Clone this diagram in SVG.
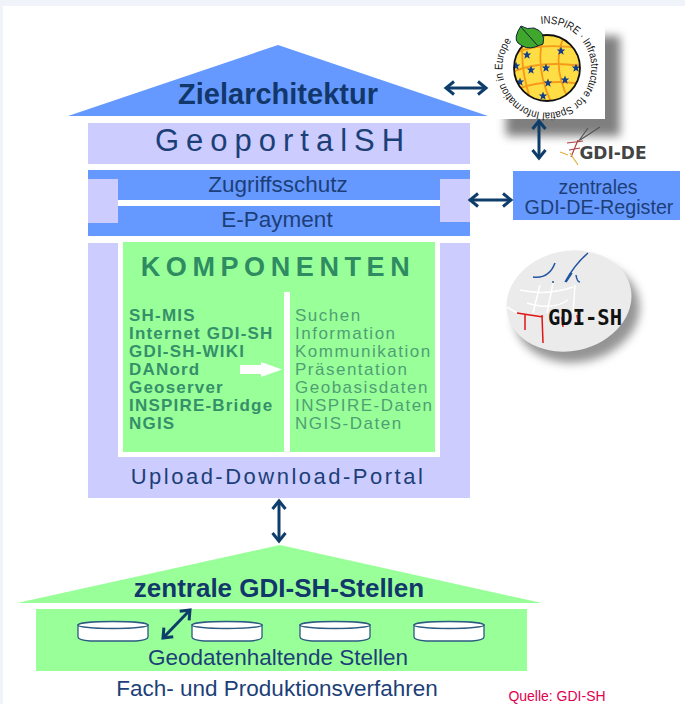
<svg xmlns="http://www.w3.org/2000/svg" xmlns:xlink="http://www.w3.org/1999/xlink" width="685" height="704" viewBox="0 0 685 704">
<style>
text{font-family:"Liberation Sans",Arial,sans-serif;text-anchor:middle}
.b{fill:#6699ff}.l{fill:#ccccff}.g{fill:#99ff99}
.t{fill:#1d3f78}.tb{fill:#12376a;font-weight:bold}
.lst{font-size:17px;letter-spacing:1.200px;text-anchor:start;fill:#35906a;font-weight:bold}
.lst2{font-size:17px;letter-spacing:1.500px;text-anchor:start;fill:#4f9f74}
.ar{fill:none;stroke:#0f3d6b;stroke-width:3;marker-start:url(#hs);marker-end:url(#he)}
.cyl{fill:#fff;stroke:#2c5a80;stroke-width:1.300}
</style>
<defs>
<marker id="he" markerUnits="userSpaceOnUse" markerWidth="16" markerHeight="16" refX="12" refY="8" orient="auto"><path d="M4 1.500L12 8L4 14.500" fill="none" stroke="#0f3d6b" stroke-width="3"/></marker>
<marker id="hs" markerUnits="userSpaceOnUse" markerWidth="16" markerHeight="16" refX="4" refY="8" orient="auto"><path d="M12 1.500L4 8L12 14.500" fill="none" stroke="#0f3d6b" stroke-width="3"/></marker>
<filter id="sh" x="-30%" y="-30%" width="160%" height="160%"><feGaussianBlur stdDeviation="5"/></filter>
<path id="ring" d="M541 24A44.500 44.500 0 1 1 534 25.500A44.500 44.500 0 0 1 541 24"/>
<path id="st" d="M0-4.500L1.200-1.400L4.300-1.400L1.800 0.600L2.700 3.700L0 1.900L-2.700 3.700L-1.800 0.600L-4.300-1.400L-1.200-1.400Z" fill="#123f8c"/>
<clipPath id="globe"><circle cx="547" cy="68" r="33"/></clipPath>
</defs>

<rect width="685" height="704" fill="#fff"/>
<rect width="685" height="6" fill="#f1f3fa"/>
<rect width="3" height="704" fill="#f1f3fa"/>

<g id="dach-ziel"><path class="b" d="M278 45L488 116H68Z"/><text x="278" y="104" class="tb" font-size="29">Zielarchitektur</text></g>
<g id="geoportal"><rect class="l" x="88" y="123" width="382" height="41"/><text x="283" y="151" class="t" font-size="31" letter-spacing="7">GeoportalSH</text></g>
<g id="zugriff">
<rect class="b" x="88" y="170" width="382" height="30"/>
<text x="278" y="192" class="t" font-size="22.500">Zugriffsschutz</text></g>
<g id="epayment">
<rect class="b" x="88" y="206" width="382" height="30"/>
<text x="277" y="227" class="t" font-size="22.500">E-Payment</text></g>
<g id="saeulen"><rect class="l" x="88" y="179" width="30" height="44"/><rect class="l" x="440" y="179" width="30" height="43"/></g>

<g id="portal">
<rect class="l" x="88" y="243" width="382" height="255"/>
<rect x="118" y="243" width="322" height="214" fill="#fff"/>
<text x="278" y="484" class="t" font-size="22" letter-spacing="2.500">Upload-Download-Portal</text>
</g>
<g id="komponenten">
<rect class="g" x="123" y="242" width="312" height="210"/>
<rect x="284" y="292" width="6" height="160" fill="#fff"/>
<text x="278" y="276" font-size="27" font-weight="bold" letter-spacing="5.600" fill="#2e8b62">KOMPONENTEN</text>
<text class="lst" x="129" y="321">SH-MIS</text>
<text class="lst" x="129" y="339">Internet GDI-SH</text>
<text class="lst" x="129" y="357">GDI-SH-WIKI</text>
<text class="lst" x="129" y="375">DANord</text>
<text class="lst" x="129" y="393">Geoserver</text>
<text class="lst" x="129" y="411">INSPIRE-Bridge</text>
<text class="lst" x="129" y="429">NGIS</text>
<path fill="#fff" d="M240 365H261V362L282 369.500L261 377V374H240Z"/>
<text class="lst2" x="295" y="321">Suchen</text>
<text class="lst2" x="295" y="339">Information</text>
<text class="lst2" x="295" y="357">Kommunikation</text>
<text class="lst2" x="295" y="375">Präsentation</text>
<text class="lst2" x="295" y="393">Geobasisdaten</text>
<text class="lst2" x="295" y="411">INSPIRE-Daten</text>
<text class="lst2" x="295" y="429">NGIS-Daten</text>
</g>

<g id="register"><rect class="b" x="513" y="171" width="167" height="49"/>
<text x="598" y="194" class="t" font-size="19.500">zentrales</text>
<text x="599" y="214" class="t" font-size="19.700">GDI-DE-Register</text></g>

<g id="inspire">
<rect x="506" y="36" width="114" height="100" fill="#555" opacity=".75" filter="url(#sh)"/>
<rect x="488" y="18" width="117" height="101" fill="#fff"/>
<circle cx="547" cy="68" r="33" fill="#ffdd44"/>
<g clip-path="url(#globe)">
<g fill="none" stroke="#f59a1a" stroke-width="1.800">
<path d="M512 56Q530 42 580 48M512 72Q540 60 582 66M514 90Q545 78 582 84M524 34Q518 65 532 104M545 32Q533 65 552 104M565 34Q550 65 570 102"/>
</g>
<use href="#st" transform="translate(527 55)"/>
<use href="#st" transform="translate(561 51)"/>
<use href="#st" transform="translate(531 70)"/>
<use href="#st" transform="translate(546 68)"/>
<use href="#st" transform="translate(565 80)"/>
<use href="#st" transform="translate(548 83)"/>
<use href="#st" transform="translate(576 68)"/>
<use href="#st" transform="translate(520 82)"/>
<use href="#st" transform="translate(516 66)"/>
<use href="#st" transform="translate(543 96)"/>
</g>
<circle cx="547" cy="68" r="33" fill="none" stroke="#111" stroke-width="1.800"/>
<path d="M521 26Q513 38 518 43Q526 50 535 47L543 44Q546 32 534 28Q527 30 521 26Z" fill="#3fa82c" stroke="#123" stroke-width="1"/>
<path d="M521 27L538 46" stroke="#123" stroke-width="1" fill="none"/>
<text font-size="11" fill="#111" style="text-anchor:start"><textPath href="#ring" xlink:href="#ring" textLength="244" lengthAdjust="spacingAndGlyphs">INSPIRE · Infrastructure for Spatial Information in Europe</textPath></text>
</g>

<g id="gdi-de-logo">
<g fill="none" stroke-width="1.200">
<path d="M600 127L580 140M588 128L578 142" stroke="#555"/>
<path d="M567 143L583 141M569 150L580 148M578 140L571 157" stroke="#b04040"/>
<path d="M560 152L568 155M570 153L578 165" stroke="#e0b040"/>
</g>
<text x="613" y="158.500" font-size="17" font-weight="bold" fill="#444" style="font-family:'DejaVu Sans',sans-serif">GDI-DE</text>
</g>

<g id="gdi-sh">
<ellipse cx="577" cy="312" rx="63" ry="50" transform="rotate(-12 577 312)" fill="#666" opacity=".7" filter="url(#sh)"/>
<ellipse cx="569" cy="301" rx="63" ry="50" transform="rotate(-12 569 301)" fill="#ebebeb"/>
<g fill="none" stroke="#fff" stroke-width="1.500">
<path d="M520 290Q547 296 573 287M527 303Q553 311 568 300M507 307L517 313M540 285L533 313M553 283L547 313M575 285L573 313"/>
</g>
<g fill="none" stroke="#2255a0" stroke-width="1.500">
<path d="M533 277Q549 279 555 263M588 253Q575 264 565 282M572 273L566 282M576 275Q577 282 580 282M553 281V283"/>
</g>
<g fill="none" stroke="#e01515" stroke-width="1.500">
<path d="M517 313L543 317M525 315V330M542 315L543 343M562 317L563 327M577 315L578 322"/>
</g>
<text x="585" y="324.500" font-size="20.500" font-weight="bold" fill="#111" style="font-family:'DejaVu Sans Mono',monospace">GDI-SH</text>
</g>

<g id="dach-gdi"><path class="g" d="M280 545L542 603H17Z"/><text x="279" y="597" class="tb" font-size="26">zentrale GDI-SH-Stellen</text></g>
<g id="geodaten">
<rect class="g" x="36" y="609" width="491" height="62"/>
<g id="cyl1"><path class="cyl" d="M78 625V637Q78 640 90 641H136Q148 640 148 637V625Z"/><ellipse class="cyl" cx="113" cy="625" rx="35" ry="3.500"/></g>
<g id="cyl2"><path class="cyl" d="M192 625V637Q192 640 204 641H250Q262 640 262 637V625Z"/><ellipse class="cyl" cx="227" cy="625" rx="35" ry="3.500"/></g>
<g id="cyl3"><path class="cyl" d="M300 625V637Q300 640 312 641H358Q370 640 370 637V625Z"/><ellipse class="cyl" cx="335" cy="625" rx="35" ry="3.500"/></g>
<g id="cyl4"><path class="cyl" d="M414 625V637Q414 640 426 641H472Q484 640 484 637V625Z"/><ellipse class="cyl" cx="449" cy="625" rx="35" ry="3.500"/></g>
<text x="278" y="665" class="t" font-size="22.500">Geodatenhaltende Stellen</text>
</g>
<g id="fach"><text x="277" y="696" class="t" font-size="22.500">Fach- und Produktionsverfahren</text></g>
<g id="quelle"><text x="557" y="701" font-size="14" fill="#e0004d">Quelle: GDI-SH</text></g>

<g id="connectors">
<path class="ar" d="M446 88H486"/>
<path class="ar" d="M539 121V158"/>
<path class="ar" d="M470 200H511"/>
<path class="ar" d="M279 501V541"/>
<path class="ar" d="M163 638L190 610"/>
</g>
</svg>
